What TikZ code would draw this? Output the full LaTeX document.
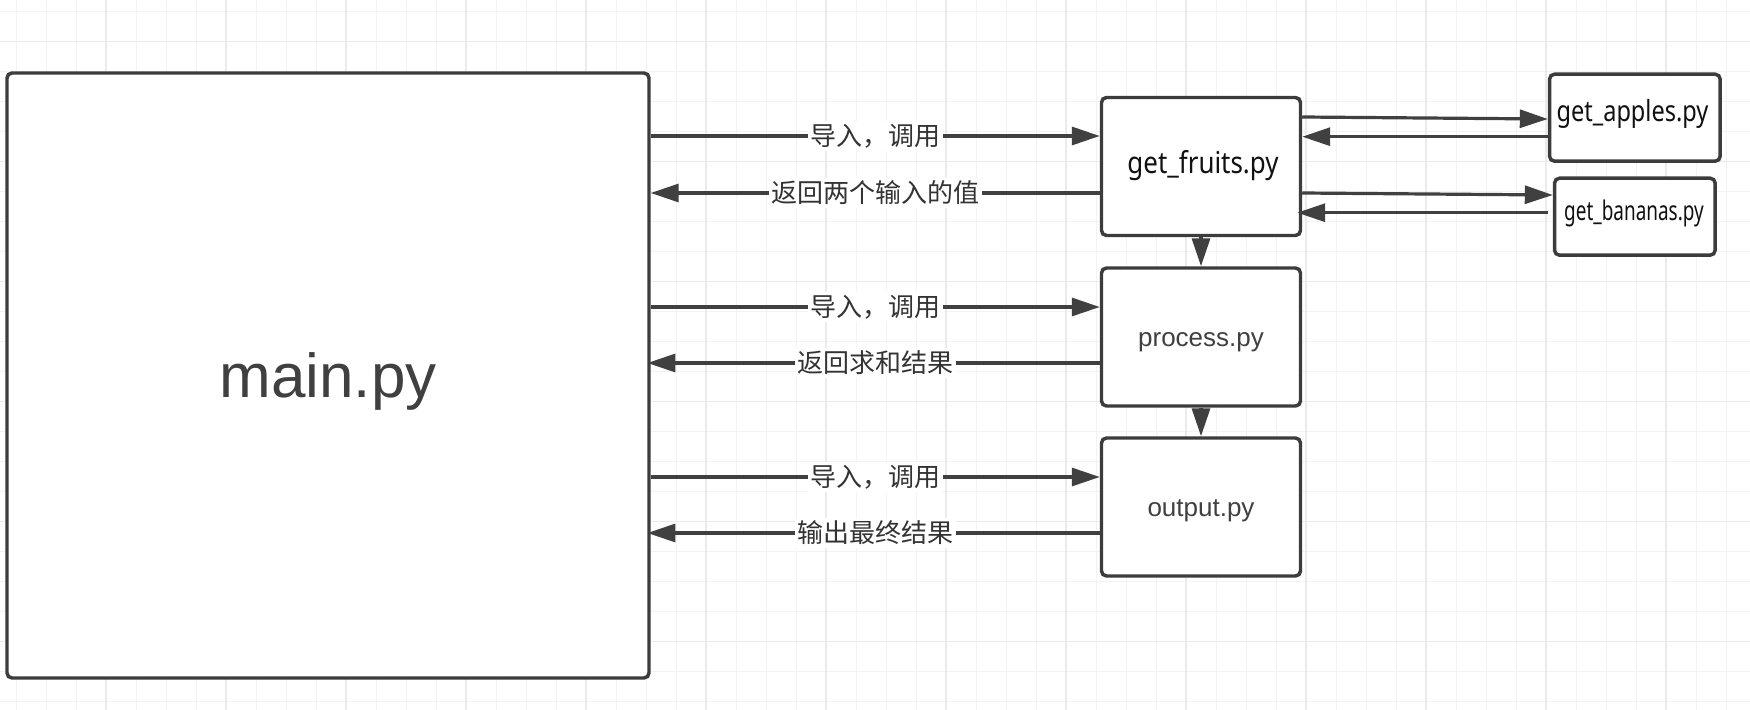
\documentclass[tikz,border=0pt]{standalone}
\usepackage{fontspec}
\setmainfont{Liberation Sans}
\newfontfamily\cjk{Noto Sans CJK SC}
\newfontfamily\uifont{Noto Sans}
\usetikzlibrary{arrows.meta}
\definecolor{ink}{HTML}{404040}
\definecolor{boxline}{HTML}{3C3C3C}
\definecolor{gridminor}{HTML}{F3F3F3}
\definecolor{gridmajor}{HTML}{EBEBEB}
\definecolor{lbltext}{HTML}{333333}
\definecolor{filetext}{HTML}{111111}
\begin{document}
\begin{tikzpicture}[x=0.75pt,y=-0.75pt,
  box/.style={draw=boxline, line width=2.6pt, fill=white, rounded corners=3.75pt, inner sep=0pt},
  arr/.style={draw=ink, line width=2.4pt, -{Triangle[length=21pt,width=13.5pt]}},
  lbl/.style={fill=white, inner sep=2pt, text=lbltext, font=\cjk\fontsize{19.5pt}{23pt}\selectfont},
  nametext/.style={anchor=base, inner sep=0pt, text=ink},
  uitext/.style={anchor=base, inner sep=0pt, text=filetext}
]
\useasboundingbox (0,0) rectangle (1750,710);
\fill[white] (0,0) rectangle (1750,710);
% grid
\foreach \k in {0,...,57} \draw[gridminor, line width=0.75pt] ({16+30*\k},0) -- ({16+30*\k},710);
\foreach \k in {0,...,23} \draw[gridminor, line width=0.75pt] (0,{11.7+30*\k}) -- (1750,{11.7+30*\k});
\foreach \k in {0,...,13} \draw[gridmajor, line width=1pt] ({106+120*\k},0) -- ({106+120*\k},710);
\foreach \k in {0,...,5} \draw[gridmajor, line width=1pt] (0,{41.7+120*\k}) -- (1750,{41.7+120*\k});

% boxes
\node[box, minimum width=481.5pt, minimum height=453.75pt] (main) at (328,375.5) {};
\node[box, minimum width=149.25pt, minimum height=103.5pt] (fruits) at (1201,166.5) {};
\node[box, minimum width=149.25pt, minimum height=103.5pt] (process) at (1201,337) {};
\node[box, minimum width=149.25pt, minimum height=103.5pt] (output) at (1201,507) {};
\node[box, minimum width=128pt, minimum height=65.25pt] (apples) at (1634.85,117.7) {};
\node[box, minimum width=120.5pt, minimum height=57.75pt] (bananas) at (1634.85,216.7) {};

% texts
\node[nametext, font=\fontsize{46.5pt}{54pt}\selectfont] (tmain) at (328,397.3) {main.py};
\node[nametext, font=\fontsize{19.5pt}{23pt}\selectfont] (tprocess) at (1201,346.5) {process.py};
\node[nametext, font=\fontsize{19.5pt}{23pt}\selectfont] (toutput) at (1201,516) {output.py};
\node[uitext, font=\uifont\fontsize{22.6pt}{26pt}\selectfont] (tfruits) at (1203,173.3) {\scalebox{0.86}[1]{get\_fruits.py}};
\node[uitext, font=\uifont\fontsize{21.8pt}{25pt}\selectfont] (tapples) at (1632.5,121.7) {\scalebox{0.81}[1]{get\_apples.py}};
\node[uitext, font=\uifont\fontsize{20.3pt}{24pt}\selectfont] (tbananas) at (1634,220) {\scalebox{0.70}[1]{get\_bananas.py}};

% row coordinates
\coordinate (r1) at (0,136);
\coordinate (r2) at (0,193);
\coordinate (r3) at (0,307);
\coordinate (r4) at (0,363);
\coordinate (r5) at (0,477);
\coordinate (r6) at (0,533);
\coordinate (a1s) at (0,117);
\coordinate (a1e) at (0,119);
\coordinate (a2) at (0,136.7);
\coordinate (b1s) at (0,193);
\coordinate (b1e) at (0,195);
\coordinate (b2) at (0,212.7);

% main <-> modules
\draw[arr] (main.east |- r1) -- node[lbl] {导入，调用} (fruits.west |- r1);
\draw[arr] (fruits.west |- r2) -- node[lbl] {返回两个输入的值} (main.east |- r2);
\draw[arr] (main.east |- r3) -- node[lbl] {导入，调用} (process.west |- r3);
\draw[arr, shorten >=-2.5pt] (process.west |- r4) -- node[lbl] {返回求和结果} (main.east |- r4);
\draw[arr] (main.east |- r5) -- node[lbl] {导入，调用} (output.west |- r5);
\draw[arr, shorten >=-2.5pt] (output.west |- r6) -- node[lbl] {输出最终结果} (main.east |- r6);

% chain
\draw[arr] (fruits.south) -- (process.north);
\draw[arr] (process.south) -- (output.north);

% fruits <-> apples / bananas
\draw[arr] (fruits.east |- a1s) -- (apples.west |- a1e);
\draw[arr] (apples.west |- a2) -- (fruits.east |- a2);
\draw[arr] (fruits.east |- b1s) -- (bananas.west |- b1e);
\draw[arr, shorten <=3.75pt, shorten >=-3.75pt] (bananas.west |- b2) -- (fruits.east |- b2);
\end{tikzpicture}
\end{document}
